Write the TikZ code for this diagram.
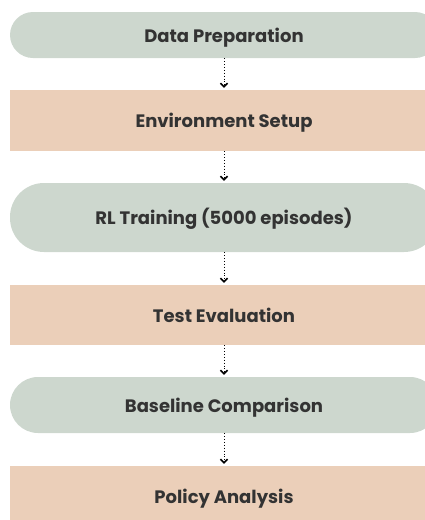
\documentclass[tikz,border=0pt]{standalone}
\usepackage{fontspec}
\setmainfont{Poppins}
\usetikzlibrary{arrows.meta}
\definecolor{sage}{HTML}{CDD7CE}
\definecolor{peach}{HTML}{EBCFB9}
\definecolor{ink}{HTML}{333333}
\tikzset{
  % fixed text height/depth keeps every title on the same optical line
  stage/.style={minimum width=428pt, inner sep=0pt, text=ink,
    text height=15pt, text depth=1pt,
    font=\fontsize{18}{21}\selectfont\bfseries},
  pill/.style={stage, fill=sage},
  block/.style={stage, fill=peach},
  flow/.style={dotted, line width=0.9pt, black,
    -{Straight Barb[length=3.5pt,width=7pt,line width=1.5pt]}, shorten >=2pt}
}
\begin{document}
\begin{tikzpicture}[x=1pt, y=-1pt]
  \useasboundingbox (0,0) rectangle (425,520);
  \node[pill, minimum height=46pt, rounded corners=23pt] (prep) at (224,35) {Data Preparation};
  \node[block, minimum height=61pt] (env) at (224,120.5) {Environment Setup};
  \node[pill, minimum height=69pt, rounded corners=34pt] (rl) at (224,217.5) {RL Training (5000 episodes)};
  \node[block, minimum height=60pt] (test) at (224,315) {Test Evaluation};
  \node[pill, minimum height=56pt, rounded corners=28pt] (base) at (224,405) {Baseline Comparison};
  \node[block, minimum height=60pt] (policy) at (224,496) {Policy Analysis};
  \draw[flow] (prep) -- (env);
  \draw[flow] (env) -- (rl);
  \draw[flow] (rl) -- (test);
  \draw[flow] (test) -- (base);
  \draw[flow] (base) -- (policy);
\end{tikzpicture}
\end{document}
